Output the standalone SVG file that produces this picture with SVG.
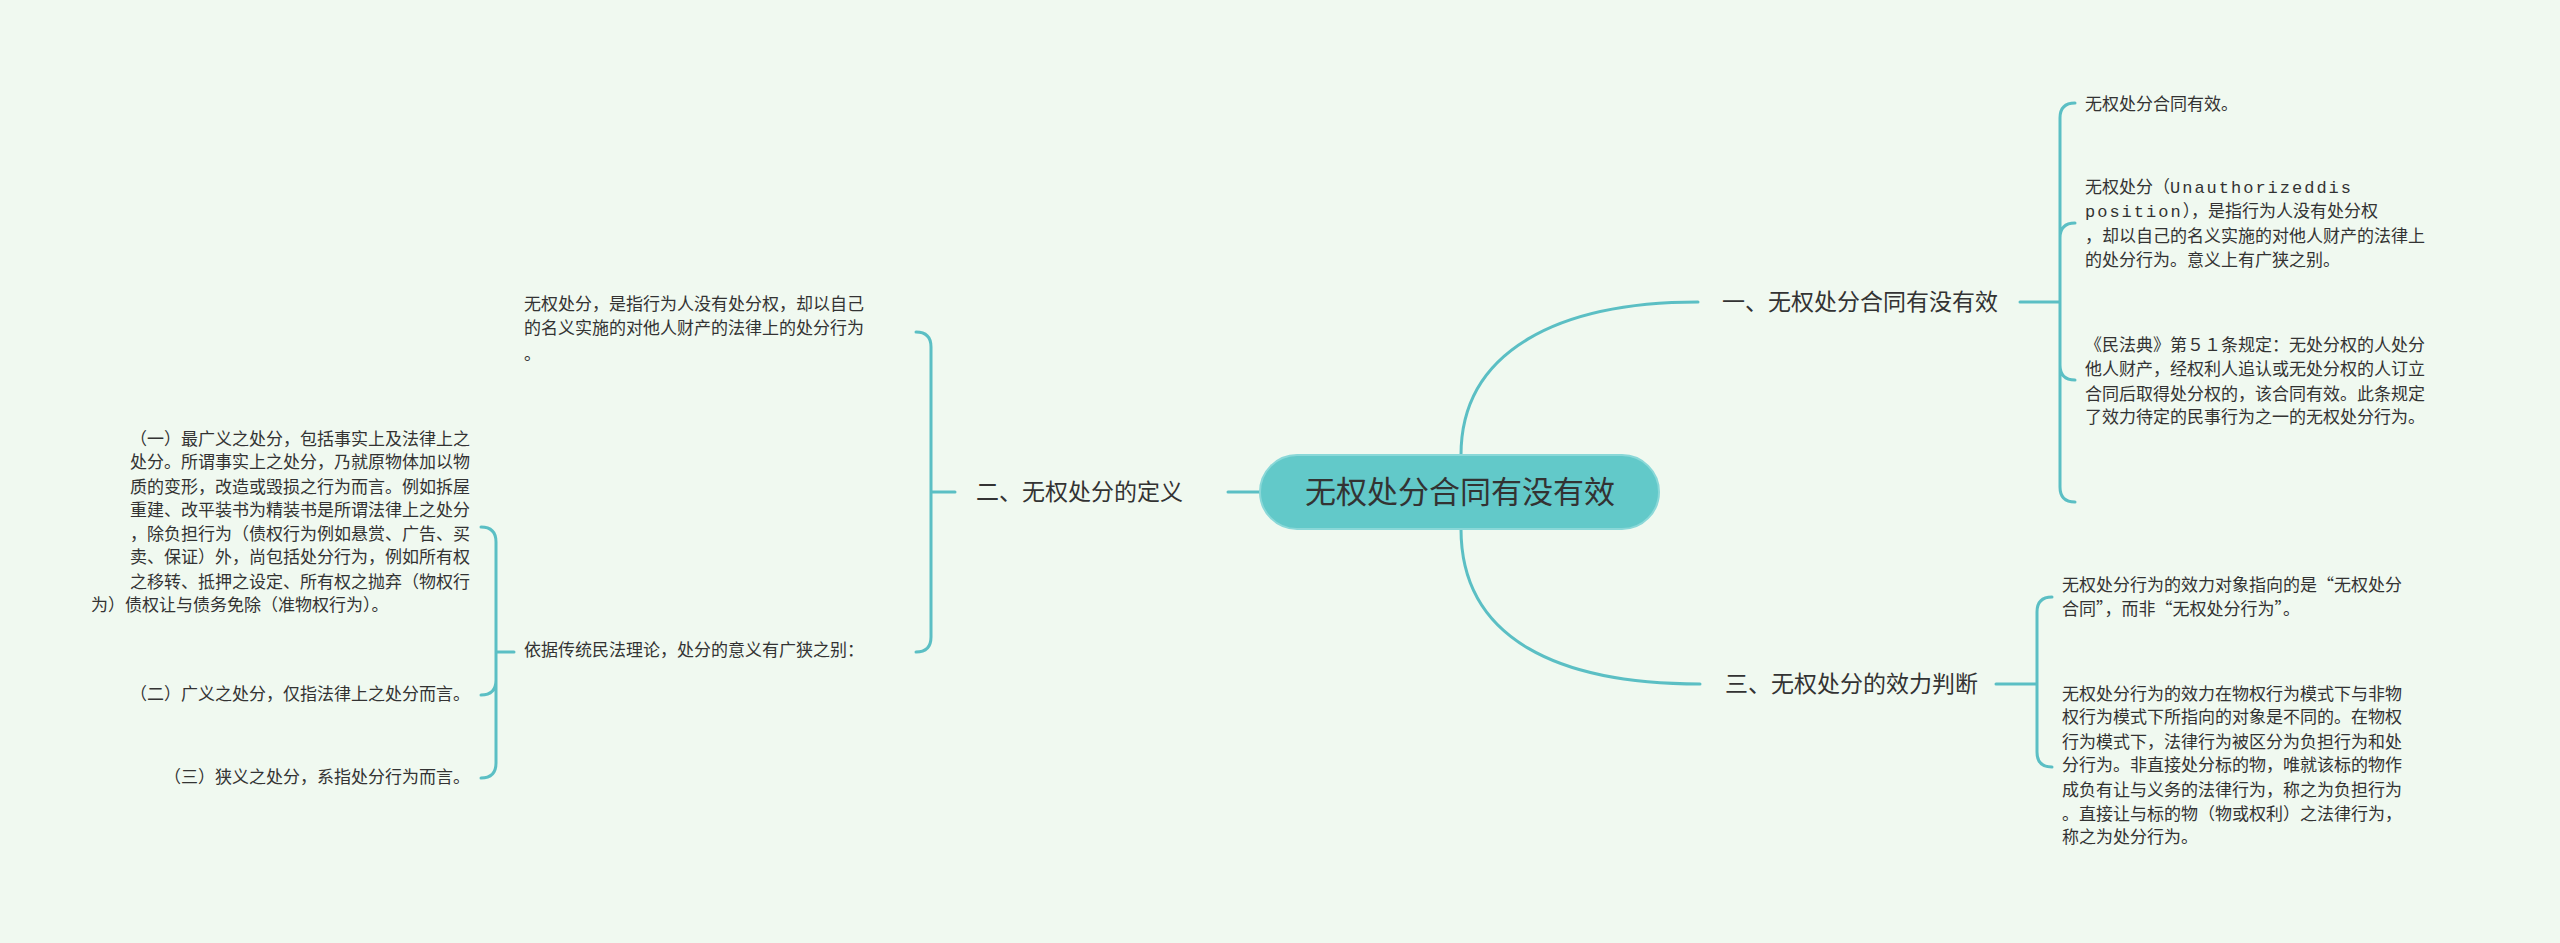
<svg xmlns="http://www.w3.org/2000/svg" width="2560" height="943" viewBox="0 0 2560 943">
<style>
.ln{fill:none;stroke:#5bbfc4;stroke-width:3;stroke-linecap:round}
text{font-family:"Noto Sans CJK SC","Noto Sans",sans-serif;fill:#333}
.t{font-size:17px}
.b{font-size:23px}
</style>
<rect width="2560" height="943" fill="#f0f9f0"/>
<g id="connectors">
<path class="ln" d="M1461,455 C1461,350 1560,302 1698,302"/>
<path class="ln" d="M1461,529 C1461,640 1560,684 1700,684"/>
<path class="ln" d="M1260,492 L1228,492"/>
<path class="ln" d="M2020,302 L2060,302 M2060,302 L2060,118 Q2060,103 2075,103 M2060,302 L2060,238 Q2060,223 2075,223 M2060,302 L2060,365 Q2060,380 2075,380 M2060,302 L2060,487 Q2060,502 2075,502"/>
<path class="ln" d="M1996,684 L2037,684 M2037,684 L2037,612 Q2037,597 2052,597 M2037,684 L2037,752 Q2037,767 2052,767"/>
<path class="ln" d="M955,492 L931,492 M931,492 L931,347 Q931,332 916,332 M931,492 L931,637 Q931,652 916,652"/>
<path class="ln" d="M514,652 L496,652 M496,652 L496,542 Q496,527 481,527 M496,652 L496,680 Q496,695 481,695 M496,652 L496,763 Q496,778 481,778"/>
</g>
<g id="root">
<rect x="1260" y="455" width="399" height="74" rx="37" fill="#62c9c9" stroke="#8ad8d8" stroke-width="2"/>
<text x="1460" y="503" text-anchor="middle" font-size="31">无权处分合同有没有效</text>
</g>
<g id="b1"><text class="b" x="1722" y="310">一、无权处分合同有没有效</text></g>
<g id="b2"><text class="b" x="976" y="500">二、无权处分的定义</text></g>
<g id="b3"><text class="b" x="1725" y="692">三、无权处分的效力判断</text></g>
<g id="c11"><text class="t" x="2085" y="110">无权处分合同有效。</text></g>
<g id="c12" class="t">
<text x="2085" y="193">无权处分（<tspan font-family="Liberation Mono,monospace" letter-spacing="2">Unauthorizeddis</tspan></text>
<text x="2085" y="217"><tspan font-family="Liberation Mono,monospace" letter-spacing="2">position</tspan>），是指行为人没有处分权</text>
<text x="2085" y="242">，却以自己的名义实施的对他人财产的法律上</text>
<text x="2085" y="266">的处分行为。意义上有广狭之别。</text>
</g>
<g id="c13" class="t">
<text x="2085" y="351">《民法典》第５１条规定：无处分权的人处分</text>
<text x="2085" y="375">他人财产，经权利人追认或无处分权的人订立</text>
<text x="2085" y="400">合同后取得处分权的，该合同有效。此条规定</text>
<text x="2085" y="423">了效力待定的民事行为之一的无权处分行为。</text>
</g>
<g id="c31" class="t">
<text x="2062" y="591">无权处分行为的效力对象指向的是“无权处分</text>
<text x="2062" y="615">合同”，而非“无权处分行为”。</text>
</g>
<g id="c32" class="t">
<text x="2062" y="700">无权处分行为的效力在物权行为模式下与非物</text>
<text x="2062" y="723">权行为模式下所指向的对象是不同的。在物权</text>
<text x="2062" y="748">行为模式下，法律行为被区分为负担行为和处</text>
<text x="2062" y="771">分行为。非直接处分标的物，唯就该标的物作</text>
<text x="2062" y="796">成负有让与义务的法律行为，称之为负担行为</text>
<text x="2062" y="820">。直接让与标的物（物或权利）之法律行为，</text>
<text x="2062" y="843">称之为处分行为。</text>
</g>
<g id="c21" class="t">
<text x="524" y="310">无权处分，是指行为人没有处分权，却以自己</text>
<text x="524" y="334">的名义实施的对他人财产的法律上的处分行为</text>
<text x="524" y="360">。</text>
</g>
<g id="c22"><text class="t" x="524" y="656">依据传统民法理论，处分的意义有广狭之别：</text></g>
<g id="g1" class="t">
<text x="470" y="445" text-anchor="end">（一）最广义之处分，包括事实上及法律上之</text>
<text x="470" y="468" text-anchor="end">处分。所谓事实上之处分，乃就原物体加以物</text>
<text x="470" y="493" text-anchor="end">质的变形，改造或毁损之行为而言。例如拆屋</text>
<text x="470" y="516" text-anchor="end">重建、改平装书为精装书是所谓法律上之处分</text>
<text x="470" y="540" text-anchor="end">，除负担行为（债权行为例如悬赏、广告、买</text>
<text x="470" y="563" text-anchor="end">卖、保证）外，尚包括处分行为，例如所有权</text>
<text x="470" y="588" text-anchor="end">之移转、抵押之设定、所有权之抛弃（物权行</text>
<text x="91" y="611">为）债权让与债务免除（准物权行为）。</text>
</g>
<g id="g2"><text class="t" x="470" y="700" text-anchor="end">（二）广义之处分，仅指法律上之处分而言。</text></g>
<g id="g3"><text class="t" x="470" y="783" text-anchor="end">（三）狭义之处分，系指处分行为而言。</text></g>
</svg>
